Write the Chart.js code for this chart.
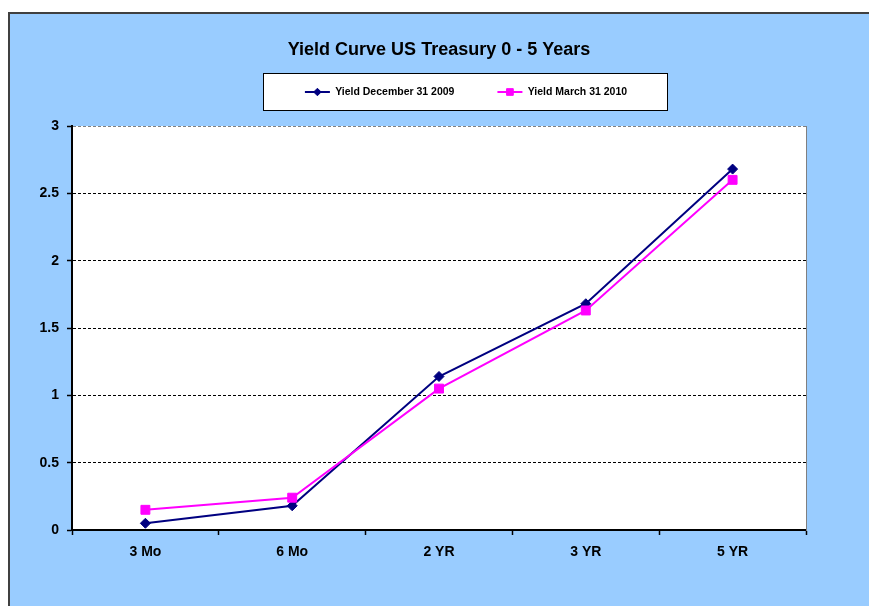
<!DOCTYPE html>
<html>
<head>
<meta charset="utf-8">
<title>Yield Curve US Treasury 0 - 5 Years</title>
<script src="https://cdn.jsdelivr.net/npm/chart.js@4.4.1/dist/chart.umd.min.js"></script>
<style>
html, body { margin: 0; padding: 0; background: #ffffff; overflow: hidden; width: 869px; height: 606px; }
#frame { position: absolute; left: 8px; top: 12px; width: 1000px; height: 700px; background: #99ccff; border-left: 2px solid #404040; border-top: 2px solid #404040; }
#graph { display: block; }
</style>
</head>
<body>
<div id="frame"><canvas id="graph" width="912" height="576"></canvas></div>
<script>
//chart data
const chartTitle = "Yield Curve US Treasury 0 - 5 Years";
const maturities = ["3 Mo", "6 Mo", "2 YR", "3 YR", "5 YR"];
const seriesLabels = ["Yield December 31 2009", "Yield March 31 2010"];
const yieldDec2009 = [0.05, 0.18, 1.14, 1.68, 2.68];
const yieldMar2010 = [0.15, 0.24, 1.05, 1.63, 2.60];
const yMin = 0;
const yMax = 3;
const yStep = 0.5;

Chart.defaults.font.family = "'Liberation Sans', Arial, sans-serif";
Chart.defaults.color = "#000000";

/**********/
//white plot area, boxed legend and legend markers
const plotFrame =
{
    id: "plotFrame",

    beforeDraw(chart)
    {
        let ctx = chart.ctx;
        let area = chart.chartArea;

        ctx.save();
        ctx.fillStyle = "#ffffff";
        ctx.fillRect(area.left, area.top, area.right - area.left, area.bottom - area.top);

        let hits = chart.legend.legendHitBoxes;
        if(hits && hits.length > 0)
        {
            let first = hits[0];
            let last = hits[hits.length-1];

            let x0 = Math.round(first.left - 42) + 0.5;
            let x1 = Math.round(last.left + last.width + 40) + 0.5;
            let y0 = Math.round(first.top - 14) + 0.5;
            let y1 = Math.round(first.top + 23) + 0.5;

            ctx.fillStyle = "#ffffff";
            ctx.fillRect(x0, y0, x1 - x0, y1 - y0);
            ctx.strokeStyle = "#000000";
            ctx.lineWidth = 1;
            ctx.strokeRect(x0, y0, x1 - x0, y1 - y0);
        }
        ctx.restore();
    },

    afterDraw(chart)
    {
        let legend = chart.legend;
        if(!legend || !Chart.helpers || !Chart.helpers.drawPoint) { return; }

        let ctx = chart.ctx;
        let boxWidth = legend.options.labels.boxWidth;

        legend.legendItems.forEach((item, i) =>
        {
            let hit = legend.legendHitBoxes[i];
            let ds = chart.data.datasets[item.datasetIndex];

            ctx.save();
            ctx.fillStyle = ds.pointBackgroundColor;
            ctx.strokeStyle = ds.pointBorderColor;
            ctx.lineWidth = ds.pointBorderWidth;
            Chart.helpers.drawPoint(ctx,
                { pointStyle: ds.pointStyle, radius: ds.pointRadius * 0.75, rotation: 0, borderWidth: ds.pointBorderWidth },
                hit.left + boxWidth / 2, hit.top + hit.height / 2);
            ctx.restore();
        });
    }
};

/**********/
function buildDatasets()
{
    let datasets = [];

    datasets.push(
    {
        label: seriesLabels[0],
        data: yieldDec2009,
        xAxisID: "x",
        yAxisID: "y",
        borderColor: "#000080",
        backgroundColor: "#000080",
        borderWidth: 2,
        pointStyle: "rectRot",
        pointRadius: 5,
        pointBackgroundColor: "#000080",
        pointBorderColor: "#000080",
        pointBorderWidth: 1,
        tension: 0,
        order: 1
    });

    datasets.push(
    {
        label: seriesLabels[1],
        data: yieldMar2010,
        xAxisID: "x",
        yAxisID: "y",
        borderColor: "#ff00ff",
        backgroundColor: "#ff00ff",
        borderWidth: 2,
        pointStyle: "rect",
        pointRadius: 6.3,
        pointBackgroundColor: "#ff00ff",
        pointBorderColor: "#ff00ff",
        pointBorderWidth: 1,
        tension: 0,
        order: 0
    });

    return datasets;
}

/**********/
function displayGraph()
{
    const ctx = document.getElementById("graph");

    window.graph = new Chart(ctx,
    {
        type: "line",

        data:
        {
            labels: maturities,
            datasets: buildDatasets()
        },

        options:
        {
            responsive: false,
            animation: false,
            devicePixelRatio: 1,
            layout: { padding: 0 },

            plugins:
            {
                title:
                {
                    display: true,
                    text: chartTitle,
                    fullSize: false,
                    color: "#000000",
                    font: { size: 18, weight: "bold" },
                    padding: { top: 25.2, bottom: -17.05 }
                },
                legend:
                {
                    position: "top",
                    labels:
                    {
                        boxWidth: 25,
                        boxHeight: 0,
                        padding: 43,
                        color: "#000000",
                        font: { size: 10.5, weight: "bold" },
                        sort: (a, b) => a.datasetIndex - b.datasetIndex
                    }
                },
                tooltip: { enabled: false }
            },

            scales:
            {
                x:
                {
                    type: "category",
                    position: "bottom",
                    offset: true,
                    grid: { offset: true, drawOnChartArea: false, drawTicks: true, tickLength: 5, tickColor: "#000000", tickWidth: 1.5 },
                    border: { color: "#000000", width: 2 },
                    ticks: { color: "#000000", padding: 9, maxRotation: 0, autoSkip: false, font: { size: 14, weight: "bold" } },
                    afterFit: (scale) => { scale.height = 60; }
                },
                y:
                {
                    type: "linear",
                    position: "left",
                    min: yMin,
                    max: yMax,
                    ticks:
                    {
                        stepSize: yStep,
                        color: "#000000",
                        padding: 8,
                        font: { size: 14, weight: "bold" },
                        callback: (value) => String(value)
                    },
                    grid:
                    {
                        color: (c) => (c.tick && c.tick.value === yMax) ? "#808080" : "#000000",
                        lineWidth: 1,
                        tickColor: "#000000",
                        tickLength: 5,
                        tickWidth: 1.5
                    },
                    border: { color: "#000000", width: 2, dash: [3, 2] },
                    afterFit: (scale) => { scale.width = 62; }
                },
                x2:
                {
                    type: "linear",
                    position: "top",
                    ticks: { display: false },
                    grid: { display: false },
                    border: { display: false },
                    afterFit: (scale) => { scale.height = 18.75; }
                },
                y2:
                {
                    type: "linear",
                    position: "right",
                    min: yMin,
                    max: yMax,
                    ticks: { display: false },
                    grid: { display: false },
                    border: { color: "#808080", width: 1 },
                    afterFit: (scale) => { scale.width = 116; }
                }
            }
        },

        plugins: [plotFrame]
    });
}

displayGraph();
</script>
</body>
</html>
